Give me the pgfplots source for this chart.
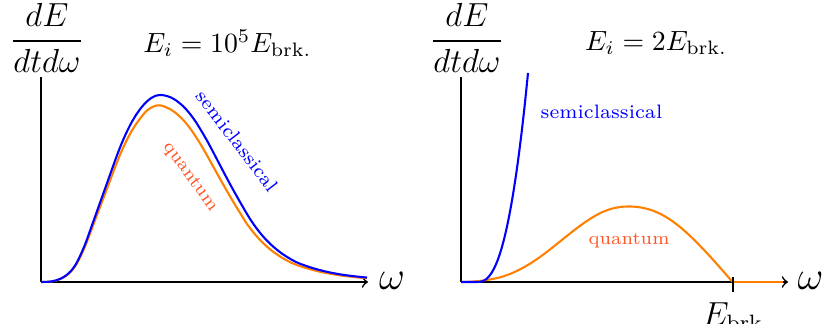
\documentclass[border=0pt]{standalone}
\usepackage{pgfplots}
\pgfplotsset{compat=1.18}
\definecolor{cblue}{RGB}{0,0,255}
\definecolor{corange}{RGB}{255,128,0}
\definecolor{qlabel}{RGB}{255,85,35}

% Spectra of emitted energy per unit frequency, arbitrary units
% (horizontal: frequency, vertical: dE/(dt domega)).
\pgfplotstableread{
x    y
0    0
5    0.1
10   0.5
15   1.6
20   3.5
25   6.5
30   11
35   18
40   28
45   40
50   54
55   68
60   82
65   96
70   110
75   124
80   137
85   148.5
90   158.5
95   167
100  174
105  179.7
110  183.8
115  186.3
120  187
125  186.2
130  184.5
135  181.6
140  177.7
145  172.8
150  166.8
155  159.8
160  151.7
165  143.2
170  134.0
175  124.5
180  114.9
185  105.4
190  96.1
195  87.1
200  78.3
206  68
210  61.6
215  54.4
220  48.0
225  42.3
230  37.4
235  33.0
240  29.1
245  25.7
250  22.7
255  20.0
260  17.9
270  14.4
280  11.6
290  9.3
300  7.5
310  6.1
320  5.0
326  4.4
}\semiA
\pgfplotstableread{
x    y
0    0
5    0.1
10   0.5
15   1.5
20   3.3
25   6.1
30   10.4
35   17
40   26.5
45   37.8
50   51
55   64.3
60   77.5
65   90.7
70   104
75   117.2
80   129.5
85   140.3
90   149.8
95   157.8
100  164.6
105  170.6
110  174.3
115  176.4
118  176.7
121  176.3
125  174.7
130  172.3
135  168.8
140  164.3
145  158.9
150  152.4
155  145
160  137
165  128.4
170  119.4
175  110.4
180  101.4
185  92.6
190  84
195  75.6
200  67.6
205  59.4
210  52.7
215  46.5
220  41
225  36.2
230  31.9
235  28.3
240  24.9
245  22
250  19.4
255  17.3
260  15.5
270  12.5
280  10
290  8.1
300  6.5
310  5.3
320  4.3
326  4.0
}\quantA
\pgfplotstableread{
x    y
0    0
10   0
16   0
19   0.18
22   0.99
25   2.73
28   5.61
31   9.8
34   15.5
37   22.7
40   31.7
43   42.6
46   55.5
49   70.4
52   87.5
55   106.9
58   128.6
61   152.8
64   179.6
67   209
}\semiB
\pgfplotstableread{
x    y
0    0
10   0.3
20   1.2
30   2.7
40   4.9
50   8.4
60   13.1
70   18.9
80   25.7
90   33.3
100  41.3
110  49.3
120  56.9
130  63.7
140  69.3
150  73.1
160  75.1
170  75.5
180  74.5
190  72
200  67.8
210  61.8
220  54.2
230  45.2
240  35.2
250  24.5
260  13.3
270  1.8
272  0
}\quantB

\begin{document}
\begin{tikzpicture}
\useasboundingbox (0,0) rectangle (297pt,116.64pt);
\pgfplotsset{
  panel/.style={
    scale only axis, width=117.72pt, height=73.8pt,
    xmin=0, xmax=327, ymin=0, ymax=205,
    axis lines=left, ticks=none, clip=false,
    anchor=south west,
    axis line style={line width=0.6pt, black},
    x axis line style={->},
    y axis line style={-},
  },
  curve/.style={line width=0.75pt, smooth, tension=0.4},
}

% ---- left panel: E_i = 10^5 E_brk
\begin{axis}[panel, at={(14.76pt,15.12pt)}]
  \addplot[corange, curve] table {\quantA};
  \addplot[cblue, curve] table {\semiA};
  \node[cblue, rotate=-52.5, font=\scriptsize] at (axis cs:196,141) {semiclassical};
  \node[qlabel, rotate=-53.7, font=\fontsize{6.6}{8}\selectfont] at (axis cs:149,105) {quantum};
\end{axis}

% ---- right panel: E_i = 2 E_brk
\begin{axis}[panel, at={(165.96pt,15.12pt)}]
  \addplot[corange, curve] table {\quantB};
  \addplot[corange, line width=0.75pt] coordinates {(272,0) (322,0)};
  \addplot[cblue, curve] table {\semiB};
  \draw[line width=0.6pt] (axis cs:272,5) -- (axis cs:272,-10);
  \node[anchor=north, inner sep=0pt, font=\large] at (axis cs:275,-20) {$E_{\mathrm{brk.}}$};
  \node[cblue, anchor=base, font=\scriptsize] at (axis cs:140.5,163) {semiclassical};
  \node[qlabel, anchor=base, font=\fontsize{6.6}{8}\selectfont] at (axis cs:168,37) {quantum};
\end{axis}

% ---- axis titles and headings
\node[font=\fontsize{13}{15}\selectfont] at (16.9pt,103pt) {$\displaystyle\frac{dE}{dtd\omega}$};
\node[font=\fontsize{13}{15}\selectfont] at (168.1pt,103pt) {$\displaystyle\frac{dE}{dtd\omega}$};
\node at (81.9pt,101.2pt) {$E_i = 10^5 E_{\mathrm{brk.}}$};
\node at (236.2pt,101.2pt) {$E_i = 2E_{\mathrm{brk.}}$};
\node[font=\Large] at (141.1pt,15.5pt) {$\omega$};
\node[font=\Large] at (291.8pt,15.5pt) {$\omega$};
\end{tikzpicture}
\end{document}
